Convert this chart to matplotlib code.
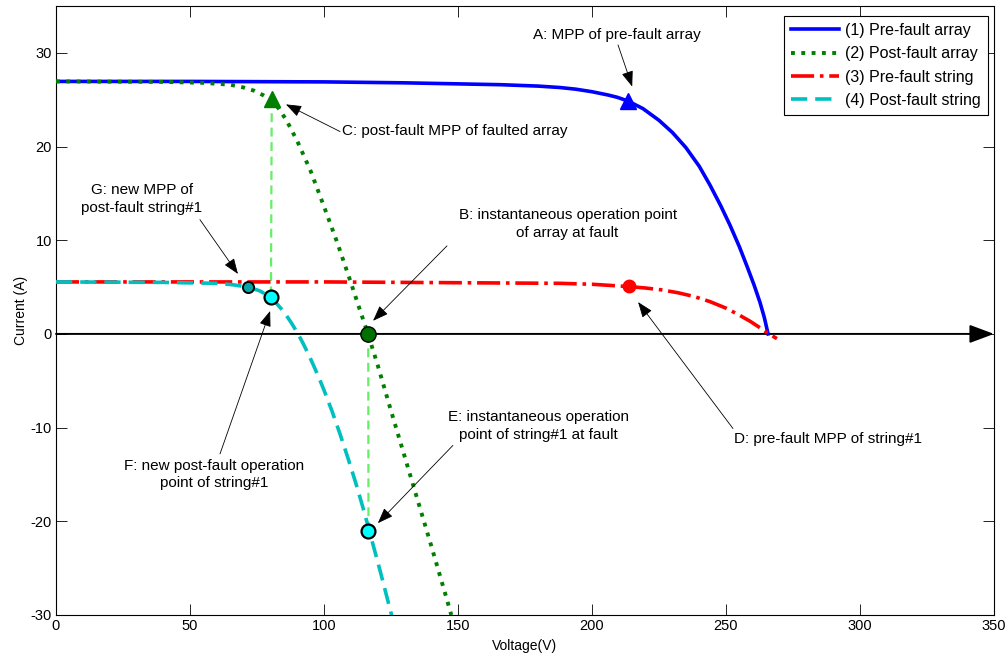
import matplotlib
matplotlib.use("Agg")
import matplotlib.pyplot as plt

plt.rcParams['font.family'] = ['Liberation Sans', 'DejaVu Sans']
plt.rcParams['axes.unicode_minus'] = False

# (1) Pre-fault array
v_pre_array = [0, 50, 100, 130, 166, 180, 188, 194, 200, 206, 209.5, 213.5, 219, 225, 230, 235, 240,
               244, 248, 251.5, 255, 258, 260.5, 262.7, 264.3, 265.7]
i_pre_array = [26.95, 26.95, 26.9, 26.8, 26.6, 26.45, 26.3, 26.12, 25.85, 25.5, 25.25, 24.85, 24.05,
               22.8, 21.5, 19.9, 17.9, 15.9, 13.7, 11.6, 9.3, 7.1, 5.2, 3.35, 1.75, 0.0]

# (2) Post-fault array
v_post_array = [0, 40, 55, 65, 70, 74, 77.5, 80.5, 83, 86, 90, 95, 100, 105, 110, 113, 116.4,
                120, 125, 130, 135, 140, 145, 147.5]
i_post_array = [26.95, 26.9, 26.8, 26.6, 26.3, 25.95, 25.45, 24.9, 24.1, 22.8, 20.6, 17.4, 13.6, 9.7,
                5.5, 2.9, 0.0, -3.3, -8.2, -13.0, -17.8, -22.6, -27.5, -30.0]

# (3) Pre-fault string
v_pre_string = [0, 100, 188, 200, 213.8, 220, 226, 232, 238, 244, 250, 255, 259, 263, 266, 269]
i_pre_string = [5.55, 5.55, 5.4, 5.3, 5.05, 4.9, 4.7, 4.4, 4.0, 3.45, 2.75, 2.0, 1.35, 0.6, 0.0, -0.5]

# (4) Post-fault string
v_post_string = [0, 40, 60, 66, 71.6, 76, 80.2, 82, 84, 86, 88, 90, 92, 94, 96, 98, 100, 103, 106,
                 109, 112, 114.5, 116.8, 121, 125.3]
i_post_string = [5.55, 5.5, 5.4, 5.25, 5.0, 4.6, 3.9, 3.35, 2.7, 1.95, 1.1, 0.15, -0.9, -2.05, -3.3,
                 -4.6, -6.0, -8.25, -10.7, -13.3, -16.05, -18.5, -20.9, -25.35, -30.1]

series_labels = ['(1) Pre-fault array', '(2) Post-fault array',
                 '(3) Pre-fault string', '(4) Post-fault string']

# operating points A..G
pt_A = (213.5, 24.9)
pt_B = (116.5, 0.0)
pt_C = (80.5, 25.1)
pt_D = (213.8, 5.1)
pt_E = (116.6, -21.0)
pt_F = (80.2, 3.9)
pt_G = (71.6, 5.0)

# annotation texts: (text, text position, arrow tail, arrow tip, ha)
notas = [
    ('A: MPP of pre-fault array', (209.3, 31.9), (209.7, 30.85), (215.0, 26.4), 'center'),
    ('C: post-fault MPP of faulted array', (106.7, 21.7), (106.0, 21.6), (85.8, 24.5), 'left'),
    ('G: new MPP of\npost-fault string#1', (32.1, 14.4), (53.7, 12.2), (67.9, 6.4), 'center'),
    ('B: instantaneous operation point\nof array at fault', (190.9, 11.75), (145.9, 9.4), (118.3, 1.4), 'center'),
    ('D: pre-fault MPP of string#1', (288.0, -11.2), (252.6, -10.1), (217.2, 3.4), 'center'),
    ('E: instantaneous operation\npoint of string#1 at fault', (179.9, -9.8), (148.1, -11.9), (120.1, -20.2), 'center'),
    ('F: new post-fault operation\npoint of string#1', (59.0, -15.0), (61.2, -12.8), (79.9, 2.45), 'center'),
]

x_ticks = [0, 50, 100, 150, 200, 250, 300, 350]
y_ticks = [-30, -20, -10, 0, 10, 20, 30]

figura = plt.figure(figsize=(10.08, 6.55), dpi=100)
eixo = figura.add_axes([56 / 1008, 40 / 655, 938 / 1008, 609 / 655])

eixo.plot(v_pre_array, i_pre_array, '-', color='#0000ff', lw=2.6, label=series_labels[0], zorder=3)
eixo.plot(v_post_array, i_post_array, ':', color='#008000', lw=2.8, label=series_labels[1], zorder=3)
eixo.plot(v_pre_string, i_pre_string, '-.', color='#ff0000', lw=2.6, label=series_labels[2], zorder=3)
eixo.plot(v_post_string, i_post_string, '--', color='#00bfbf', lw=2.6, label=series_labels[3], zorder=3,
          dashes=(4.5, 2.2))

# linhas verticais tracejadas (verde claro)
eixo.plot([pt_C[0], pt_F[0]], [pt_C[1], pt_F[1]], '--', color='#66ee66', lw=1.6, dashes=(4, 2.5), zorder=2)
eixo.plot([pt_B[0], pt_E[0]], [pt_B[1], pt_E[1]], '--', color='#66ee66', lw=1.6, dashes=(4, 2.5), zorder=2)

# eixo x com seta
eixo.annotate('', xy=(350, 0), xytext=(0, 0), annotation_clip=False,
              arrowprops=dict(arrowstyle='-|>,head_length=0.75,head_width=0.28', lw=1.4,
                              color='black', mutation_scale=20, shrinkA=0, shrinkB=0), zorder=2)

# marcadores
eixo.plot(*pt_A, '^', color='#0000ff', ms=12, zorder=5)
eixo.plot(*pt_C, '^', color='#008000', ms=12, zorder=5)
eixo.plot(*pt_B, 'o', mfc='#007000', mec='black', mew=1.0, ms=11, zorder=5)
eixo.plot(*pt_E, 'o', mfc='#00ffff', mec='black', mew=1.6, ms=10, zorder=5)
eixo.plot(*pt_F, 'o', mfc='#00ffff', mec='black', mew=1.6, ms=10, zorder=5)
eixo.plot(*pt_G, 'o', mfc='#00a8a8', mec='black', mew=1.4, ms=8, zorder=5)
eixo.plot(*pt_D, 'o', mfc='#ff0000', mec='#ff0000', ms=9, zorder=5)

for texto, pos, cauda, ponta, ha in notas:
    eixo.text(pos[0], pos[1], texto, ha=ha, va='center', fontsize=11, linespacing=1.35, zorder=6)
    eixo.annotate('', xy=ponta, xytext=cauda,
                  arrowprops=dict(arrowstyle='-|>,head_length=0.8,head_width=0.3', lw=0.6,
                                  color='black', mutation_scale=12, shrinkA=0, shrinkB=0), zorder=6)

eixo.set_xlim(0, 350)
eixo.set_ylim(-30, 35)
eixo.set_xticks(x_ticks)
eixo.set_yticks(y_ticks)
eixo.tick_params(direction='in', length=8, width=0.6, top=True, right=True, labelsize=10.5, pad=3)
for lado in eixo.spines.values():
    lado.set_linewidth(0.8)
eixo.set_xlabel('Voltage(V)', fontsize=10, labelpad=4)
eixo.set_ylabel('Current (A)', fontsize=10, labelpad=2)

leg = eixo.legend(loc='upper right', bbox_to_anchor=(0.994, 0.984), borderaxespad=0,
                  fontsize=11.5, handlelength=3.0, fancybox=False, framealpha=1,
                  edgecolor='black', borderpad=0.45, labelspacing=0.52, handletextpad=0.4)
leg.get_frame().set_linewidth(0.8)

figura.savefig('out.png', dpi=100)
